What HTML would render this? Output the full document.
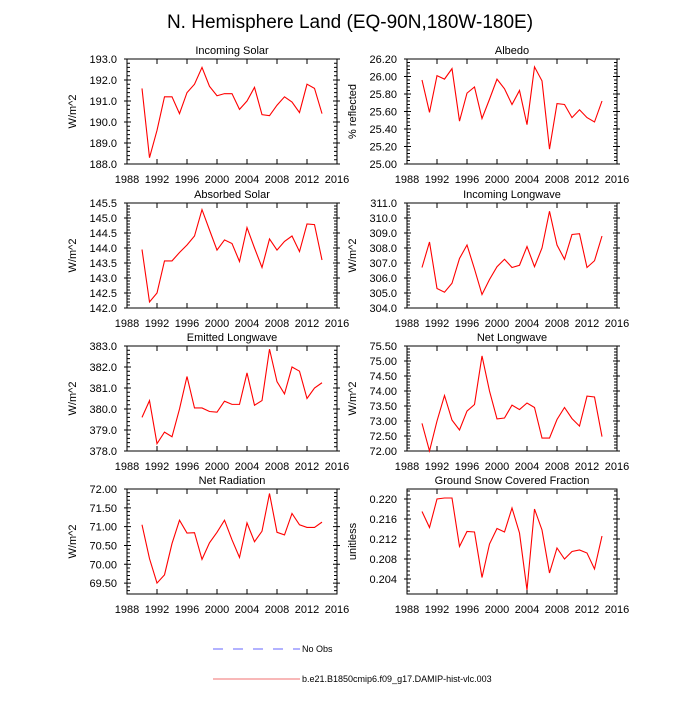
<!DOCTYPE html>
<html><head><meta charset="utf-8"><style>
body{margin:0;background:#fff}
text{font-family:"Liberation Sans",sans-serif;fill:#000}
</style></head><body>
<svg id="chart" width="700" height="700" xmlns="http://www.w3.org/2000/svg">
<text x="350" y="28" font-size="19" text-anchor="middle">N. Hemisphere Land (EQ-90N,180W-180E)</text>
<g id="panels"></g>
<g>
<line x1="213" y1="649" x2="300" y2="649" stroke="#6666ff" stroke-width="1" stroke-dasharray="10,10"/>
<text x="302" y="652" font-size="9">No Obs</text>
<line x1="213" y1="679" x2="300" y2="679" stroke="#f07070" stroke-width="1"/>
<text x="302" y="682" font-size="9">b.e21.B1850cmip6.f09_g17.DAMIP-hist-vlc.003</text>
</g>
</svg>
<script>
const years=[1990,1991,1992,1993,1994,1995,1996,1997,1998,1999,2000,2001,2002,2003,2004,2005,2006,2007,2008,2009,2010,2011,2012,2013,2014];
const xTicks=[1988,1992,1996,2000,2004,2008,2012,2016];
const incomingSolar=[191.6,188.3,189.6,191.2,191.2,190.4,191.4,191.8,192.6,191.7,191.25,191.35,191.35,190.6,191.0,191.65,190.35,190.3,190.8,191.2,190.95,190.45,191.8,191.6,190.4];
const albedo=[25.96,25.59,26.01,25.97,26.09,25.49,25.81,25.88,25.52,25.74,25.97,25.86,25.68,25.84,25.45,26.11,25.95,25.17,25.69,25.68,25.53,25.62,25.53,25.48,25.72];
const absorbedSolar=[143.95,142.2,142.5,143.57,143.57,143.85,144.1,144.4,145.28,144.6,143.93,144.27,144.15,143.55,144.68,144.0,143.35,144.3,143.93,144.22,144.4,143.88,144.8,144.78,143.6];
const incomingLW=[306.7,308.4,305.3,305.05,305.65,307.3,308.2,306.6,304.9,305.9,306.75,307.25,306.7,306.85,308.1,306.75,308.0,310.45,308.2,307.25,308.9,308.95,306.7,307.15,308.8];
const emittedLW=[379.6,380.4,378.35,378.9,378.68,380.0,381.55,380.05,380.05,379.88,379.85,380.37,380.22,380.22,381.72,380.18,380.4,382.85,381.3,380.72,382.0,381.8,380.5,381.0,381.25];
const netLW=[72.92,72.0,73.0,73.85,73.03,72.7,73.33,73.55,75.17,74.0,73.07,73.1,73.53,73.38,73.6,73.45,72.43,72.43,73.05,73.45,73.08,72.83,73.83,73.8,72.48];
const netRad=[71.05,70.15,69.5,69.72,70.55,71.17,70.83,70.84,70.13,70.57,70.85,71.17,70.65,70.18,71.1,70.6,70.88,71.88,70.85,70.78,71.35,71.05,70.98,70.98,71.12];
const snowFrac=[0.2175,0.2143,0.2200,0.2202,0.2202,0.2105,0.2135,0.2134,0.2043,0.2110,0.2141,0.2134,0.2182,0.2132,0.2018,0.2180,0.2138,0.2052,0.2102,0.2080,0.2095,0.2098,0.2092,0.2060,0.2126];
const titles=["Incoming Solar","Albedo","Absorbed Solar","Incoming Longwave","Emitted Longwave","Net Longwave","Net Radiation","Ground Snow Covered Fraction"];
const yLabels=["W/m^2","% reflected","W/m^2","W/m^2","W/m^2","W/m^2","W/m^2","unitless"];
const yTicks1=[188,189,190,191,192,193];
const yTicks2=[25.0,25.2,25.4,25.6,25.8,26.0,26.2];
const yTicks3=[142.0,142.5,143.0,143.5,144.0,144.5,145.0,145.5];
const yTicks4=[304,305,306,307,308,309,310,311];
const yTicks5=[378,379,380,381,382,383];
const yTicks6=[72.0,72.5,73.0,73.5,74.0,74.5,75.0,75.5];
const yTicks7=[69.5,70.0,70.5,71.0,71.5,72.0];
const yTicks8=[0.204,0.208,0.212,0.216,0.220];
const yRanges=[[188,193],[25,26.2],[142,145.5],[304,311],[378,383],[72,75.5],[69.21,72],[0.201,0.222]];
const decimals=[1,2,1,1,1,2,2,3];
const series=[incomingSolar,albedo,absorbedSolar,incomingLW,emittedLW,netLW,netRad,snowFrac];
const yTickSets=[yTicks1,yTicks2,yTicks3,yTicks4,yTicks5,yTicks6,yTicks7,yTicks8];
const NS="http://www.w3.org/2000/svg";
const root=document.getElementById('panels');
function mk(tag,attrs,parent){const e=document.createElementNS(NS,tag);for(const k in attrs)e.setAttribute(k,attrs[k]);parent.appendChild(e);return e;}
const lefts=[127,407],tops=[59,203,346,489],W=210,H=105;
for(let p=0;p<8;p++){
  const L=lefts[p%2],T=tops[Math.floor(p/2)];
  const g=mk('g',{},root);
  
  
  const [y0,y1]=yRanges[p];
  const xs=v=>L+(v-1988)/(2016-1988)*W;
  const ys=v=>T+H-(v-y0)/(y1-y0)*H;
  const fr=mk('rect',{x:L,y:T,width:W,height:H,fill:'none',stroke:'#000','stroke-width':1},g);
  
  
  const t=mk('text',{x:L+W/2,y:T-5,'font-size':11,'text-anchor':'middle'},g);t.textContent=titles[p];
  
  
  const yl=mk('text',{x:0,y:0,'font-size':11,'text-anchor':'middle',transform:`translate(${L-51},${T+H/2}) rotate(-90)`},g);yl.textContent=yLabels[p];
  
  
  let d='';
  xTicks.forEach(v=>{const x=xs(v);d+=`M${x} ${T+H}v-5M${x} ${T}v5`;
    const lb=mk('text',{x:x,y:T+H+19,'font-size':11,'text-anchor':'middle'},g);lb.textContent=v;
    
    });
  const yt=yTickSets[p];const step=yt[1]-yt[0];
  yt.forEach(v=>{const y=ys(v);d+=`M${L-3} ${y}h7M${L+W+3} ${y}h-7`;
    const lb=mk('text',{x:L-10,y:y+4,'font-size':11,'text-anchor':'end'},g);lb.textContent=v.toFixed(decimals[p]);
    
    });
  for(let v=yt[0]-step;v<=y1+1e-9;v+=step/5){if(v<y0-1e-9)continue;const y=ys(v);d+=`M${L} ${y}h3M${L+W} ${y}h-3`;}
  const tk=mk('path',{d:d,stroke:'#000','stroke-width':1,fill:'none'},g);
  
  
  const pts=years.map((yr,i)=>xs(yr).toFixed(2)+','+ys(series[p][i]).toFixed(2)).join(' ');
  const ln=mk('polyline',{points:pts,fill:'none',stroke:'#ff0000','stroke-width':1.1},g);
  
  
}
</script>
</body></html>
